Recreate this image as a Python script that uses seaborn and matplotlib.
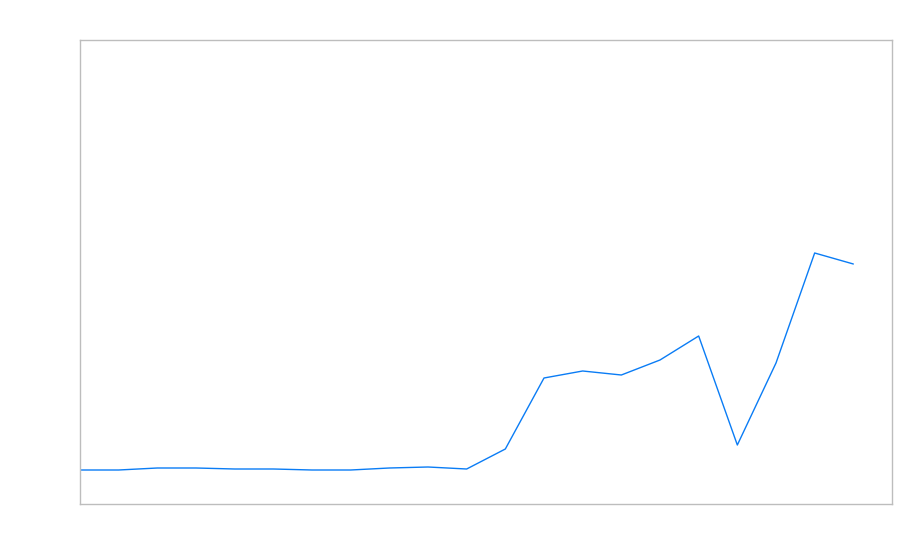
import pandas as pd
import seaborn as sns
import matplotlib
matplotlib.use("Agg")
import matplotlib.pyplot as plt

# values (no axis labels in the reference)
steps = list(range(21))
values = [34, 34, 36, 36, 35, 35, 34, 34, 36, 37, 35, 55, 126, 133, 129, 144, 168, 59, 141, 251, 240]

data = pd.DataFrame({"step": steps, "value": values})

sns.set_style("white")
fig = plt.figure(figsize=(9, 5.6), dpi=100)
ax = fig.add_axes([80 / 900, 56 / 560, 812 / 900, 464 / 560])

sns.lineplot(data=data, x="step", y="value", color="#0a7cf5", linewidth=1, ax=ax)

ax.set_xlim(0, 21)
ax.set_ylim(0, 464)
ax.set_xticks([])
ax.set_yticks([])
ax.set_xlabel("")
ax.set_ylabel("")
for s in ax.spines.values():
    s.set_color("#bdbdbd")
    s.set_linewidth(1)

fig.savefig("out.png", dpi=100)
